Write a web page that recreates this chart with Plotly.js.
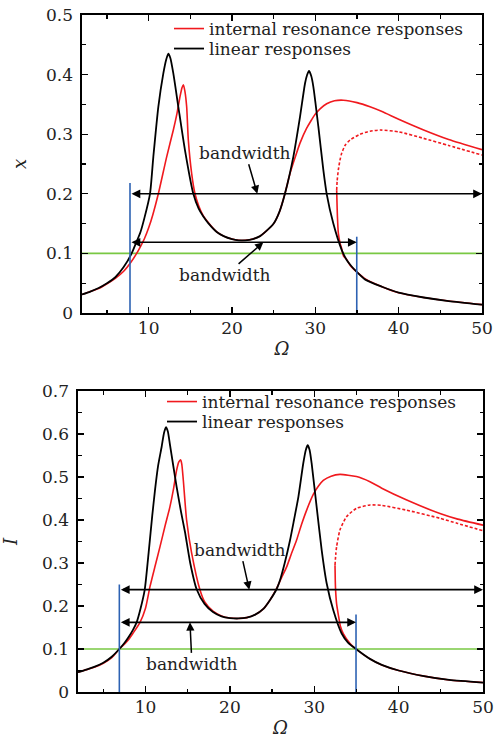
<!DOCTYPE html>
<html>
<head>
<meta charset="utf-8">
<script src="https://cdn.plot.ly/plotly-3.0.1.min.js"></script>
<style>html,body{margin:0;padding:0;background:#fff;}#chart{width:494px;height:740px;}</style>
</head>
<body>
<div id="chart"></div>
<script>
// ---------- Top panel (x) ----------
const topLinearOmega = [2,3,4,5,6,7,7.96,8.5,9,9.5,10.16,10.56,11.16,11.76,12.1,12.36,12.6,12.96,13.56,14.36,15.36,16,16.56,17.2,18.17,19,20,20.8,21.6,22.5,23.37,24.0,25.0,25.7,26.35,27.36,28.16,28.76,29.0,29.24,29.5,29.76,30.36,30.96,31.36,32.16,33.16,33.76,34.36,34.97,36,38,40,43,46,50];
const topLinearX     = [0.031,0.036,0.042,0.050,0.060,0.077,0.100,0.118,0.135,0.160,0.200,0.262,0.346,0.402,0.425,0.435,0.428,0.402,0.346,0.273,0.200,0.175,0.162,0.150,0.136,0.129,0.124,0.122,0.122,0.124,0.129,0.136,0.150,0.170,0.200,0.262,0.329,0.385,0.399,0.406,0.398,0.380,0.313,0.240,0.200,0.150,0.106,0.089,0.078,0.069,0.056,0.044,0.034,0.026,0.020,0.014];

const topIrOmega = [2,3,4,5,6,7,7.76,8.56,9,9.5,10,10.5,11.16,12.16,12.96,13.4,13.76,14.0,14.16,14.35,14.56,14.76,15.16,15.56,16,16.56,17.2,18.17,19,20,20.8,21.6,22.5,23.37,24.0,25.0,25.7,26.35,26.96,27.6,28.16,28.96,29.5,29.96,30.6,31.36,32.3,33.36,35,36.56,38,40,43,46,50];
const topIrX     = [0.031,0.036,0.041,0.049,0.058,0.070,0.083,0.100,0.111,0.125,0.143,0.165,0.200,0.262,0.307,0.335,0.363,0.378,0.383,0.372,0.346,0.290,0.234,0.200,0.180,0.163,0.151,0.136,0.129,0.124,0.122,0.122,0.124,0.129,0.136,0.150,0.170,0.200,0.234,0.262,0.285,0.310,0.323,0.333,0.343,0.351,0.356,0.357,0.353,0.346,0.338,0.325,0.307,0.291,0.274];

const topIrLowerOmega = [32.56,32.6,32.65,32.76,32.97,33.16,33.37,33.76,34.17,34.36,34.97,36,38,40,43,46,50];
const topIrLowerX     = [0.206,0.185,0.162,0.134,0.117,0.108,0.096,0.090,0.080,0.077,0.069,0.057,0.044,0.034,0.026,0.020,0.014];

const topIrUnstableOmega = [32.56,32.62,32.76,32.95,33.16,33.6,34.16,35.36,36.56,37.8,40,43,46,50];
const topIrUnstableX     = [0.206,0.222,0.240,0.256,0.268,0.282,0.290,0.300,0.305,0.307,0.304,0.293,0.281,0.265];

const topThreshold = 0.1;
const topBandEdges = [7.76, 34.97];
const topBandEdgeTops = [0.218, 0.128];
const topArrowLevels = [0.2, 0.1186];
const topArrowEnds = [50, 34.97];
const topLabelTips = [23.04, 23.76];

// ---------- Bottom panel (I) ----------
const botLinearOmega = [2,3,4,5,6,6.9,7.5,8,8.5,8.95,9.4,9.9,10.4,10.8,11.13,11.5,11.92,12.2,12.43,12.65,12.9,13.3,13.69,14.2,14.68,15.3,16.06,17,18,19,20,21,22,23,24,24.76,25.53,25.94,26.5,27.13,27.6,28.12,28.7,29.0,29.22,29.45,29.69,30.28,30.88,31.47,32.26,33.25,34,34.95,36.6,38,40,43,46,50];
const botLinearI     = [0.046,0.052,0.059,0.068,0.082,0.100,0.114,0.128,0.144,0.162,0.193,0.237,0.330,0.410,0.470,0.527,0.571,0.603,0.616,0.606,0.575,0.525,0.477,0.420,0.372,0.300,0.239,0.205,0.186,0.176,0.172,0.171,0.173,0.180,0.194,0.214,0.239,0.260,0.300,0.353,0.400,0.454,0.532,0.563,0.574,0.563,0.532,0.431,0.330,0.253,0.190,0.136,0.115,0.100,0.077,0.063,0.050,0.037,0.028,0.022];

const botIrOmega = [2,3,4,5,6,6.9,7.5,8,8.5,9.35,10,10.53,11.1,11.72,12.3,12.9,13.3,13.69,13.95,14.16,14.3,14.48,14.87,15.47,16.46,17,18,19,20,21,22,23,24,24.76,25.5,26.1,26.73,27.3,27.9,28.5,29.1,29.9,30.5,31.07,32,33.05,35,36.6,38,40.9,44.9,47,50];
const botIrI     = [0.046,0.052,0.058,0.067,0.080,0.100,0.111,0.122,0.136,0.162,0.195,0.245,0.290,0.338,0.385,0.431,0.470,0.516,0.535,0.540,0.530,0.493,0.400,0.323,0.237,0.210,0.188,0.177,0.172,0.171,0.173,0.180,0.194,0.214,0.239,0.265,0.291,0.322,0.353,0.390,0.423,0.460,0.479,0.492,0.502,0.506,0.501,0.489,0.474,0.447,0.415,0.402,0.388];

const botIrLowerOmega = [32.46,32.49,32.53,32.65,32.85,33.1,33.44,34.24,34.95,36.6,38,40,43,46,50];
const botIrLowerI     = [0.295,0.260,0.237,0.205,0.180,0.153,0.136,0.113,0.100,0.077,0.063,0.050,0.037,0.028,0.022];

const botIrUnstableOmega = [32.46,32.55,32.65,33.05,33.84,35.0,36.6,38,40.9,44.9,47,50];
const botIrUnstableI     = [0.295,0.320,0.338,0.377,0.408,0.427,0.435,0.434,0.423,0.404,0.392,0.375];

const botThreshold = 0.1;
const botBandEdges = [6.9, 34.95];
const botBandEdgeTops = [0.25, 0.18];
const botArrowLevels = [0.238, 0.162];
const botArrowEnds = [50, 34.95];
const botLabelTips = [22.3, 15.27];

const omegaRange = [2, 50];
const xTickVals = [10, 20, 30, 40, 50];
const legendNames = ['internal resonance responses', 'linear responses'];

// ---------- Styles ----------
const RED = '#f0191e', BLACK = '#000000', GREEN = '#79c843', BLUE = '#2d62b3';
const FONT = 'DejaVu Serif';

function lineTrace(xs, ys, color, width, axes, extra) {
  return Object.assign({
    type: 'scatter', mode: 'lines', x: xs, y: ys,
    line: {color: color, width: width, shape: 'spline', smoothing: 0.6},
    xaxis: axes[0], yaxis: axes[1], showlegend: false, hoverinfo: 'skip'
  }, extra || {});
}

function panelTraces(axes, d, legendIds) {
  const tr = [];
  tr.push(lineTrace(omegaRange, [d.thr, d.thr], GREEN, 1.6, axes, {line: {color: GREEN, width: 1.6}}));
  tr.push(lineTrace(d.irO, d.irY, RED, 1.6, axes, {name: legendNames[0], showlegend: true, legend: legendIds[0]}));
  tr.push(lineTrace(d.lowO, d.lowY, RED, 1.6, axes));
  tr.push(lineTrace(d.unO, d.unY, RED, 1.6, axes, {line: {color: RED, width: 1.6, dash: '3px,2px', shape: 'spline', smoothing: 0.6}}));
  tr.push(lineTrace(d.linO, d.linY, BLACK, 1.8, axes, {name: legendNames[1], showlegend: true, legend: legendIds[1]}));
  for (let i = 0; i < d.edges.length; i++) {
    tr.push(lineTrace([d.edges[i], d.edges[i]], [0, d.edgeTops[i]], BLUE, 1.6, axes, {line: {color: BLUE, width: 1.6}}));
  }
  return tr;
}

const traces = [].concat(
  panelTraces(['x', 'y'], {
    thr: topThreshold, irO: topIrOmega, irY: topIrX, lowO: topIrLowerOmega, lowY: topIrLowerX,
    unO: topIrUnstableOmega, unY: topIrUnstableX, linO: topLinearOmega, linY: topLinearX,
    edges: topBandEdges, edgeTops: topBandEdgeTops
  }, ['legend', 'legend2']),
  panelTraces(['x2', 'y2'], {
    thr: botThreshold, irO: botIrOmega, irY: botIrI, lowO: botIrLowerOmega, lowY: botIrLowerI,
    unO: botIrUnstableOmega, unY: botIrUnstableI, linO: botLinearOmega, linY: botLinearI,
    edges: botBandEdges, edgeTops: botBandEdgeTops
  }, ['legend3', 'legend4'])
);

function bandArrows(xr, yr, edges, levels, ends, tips, labelOffsets) {
  const a = [];
  for (let i = 0; i < levels.length; i++) {
    a.push({
      xref: xr, yref: yr, axref: xr, ayref: yr,
      x: ends[i], y: levels[i], ax: edges[0], ay: levels[i],
      text: '', showarrow: true, arrowside: 'end+start',
      arrowhead: 2, arrowsize: 1.1, arrowwidth: 1.6, arrowcolor: BLACK,
      standoff: 0, startstandoff: 0
    });
    a.push({
      xref: xr, yref: yr, x: tips[i], y: levels[i],
      ax: labelOffsets[i][0], ay: labelOffsets[i][1],
      text: 'bandwidth', font: {family: FONT, size: 17, color: '#222'},
      showarrow: true, arrowhead: 2, arrowsize: 1.1, arrowwidth: 1.5, arrowcolor: BLACK,
      standoff: 0
    });
  }
  return a;
}

const annotations = [].concat(
  bandArrows('x', 'y', topBandEdges, topArrowLevels, topArrowEnds, topLabelTips, [[-12, -41], [-38, 33]]),
  bandArrows('x2', 'y2', botBandEdges, botArrowLevels, botArrowEnds, botLabelTips, [[-9, -40], [2, 42]])
);

function xAxis(domain, anchor) {
  return {
    domain: domain, anchor: anchor, range: omegaRange,
    tickmode: 'array', tickvals: xTickVals,
    ticks: 'inside', ticklen: 6, tickwidth: 1.3, tickcolor: BLACK,
    minor: {ticks: 'inside', ticklen: 3.5, tickwidth: 1.3, tickcolor: BLACK, dtick: 5, tick0: 0, showgrid: false},
    showline: true, linewidth: 1.6, linecolor: BLACK, mirror: 'allticks',
    showgrid: false, zeroline: false,
    tickfont: {family: FONT, size: 17, color: '#222'},
    ticklabelstandoff: -1,
    title: {text: 'Ω', font: {family: FONT, size: 18, style: 'italic', color: '#222'}, standoff: 5},
    automargin: false
  };
}
function yAxis(domain, anchor, range, title, standoff) {
  return {
    domain: domain, anchor: anchor, range: range, dtick: 0.1, tick0: 0,
    ticks: 'inside', ticklen: 6, tickwidth: 1.3, tickcolor: BLACK,
    minor: {ticks: 'inside', ticklen: 3.5, tickwidth: 1.3, tickcolor: BLACK, dtick: 0.05, tick0: 0, showgrid: false},
    showline: true, linewidth: 1.6, linecolor: BLACK, mirror: 'allticks',
    showgrid: false, zeroline: false,
    tickfont: {family: FONT, size: 17, color: '#222'},
    ticklabelstandoff: 4,
    title: {text: title, font: {family: FONT, size: 18, style: 'italic', color: '#222'}, standoff: standoff},
    automargin: false
  };
}

function legendAt(x, y) {
  return {
    x: x, y: y, xanchor: 'left', yanchor: 'middle', xref: 'paper', yref: 'paper',
    bgcolor: 'rgba(0,0,0,0)', borderwidth: 0,
    font: {family: FONT, size: 17, color: '#222'},
    itemwidth: 30, tracegroupgap: 0
  };
}

const W = 494, H = 740;
const layout = {
  width: W, height: H,
  margin: {l: 0, r: 0, t: 0, b: 0},
  paper_bgcolor: '#fff', plot_bgcolor: '#fff',
  showlegend: true,
  xaxis: xAxis([82 / W, 482 / W], 'y'),
  yaxis: yAxis([1 - 313 / H, 1 - 15 / H], 'x', [0, 0.5], 'x', 14),
  xaxis2: xAxis([78 / W, 483 / W], 'y2'),
  yaxis2: yAxis([1 - 692 / H, 1 - 391 / H], 'x2', [0, 0.7], 'I', 19),
  legend: legendAt(169 / W, 1 - 29 / H),
  legend2: legendAt(169 / W, 1 - 49 / H),
  legend3: legendAt(162 / W, 1 - 402 / H),
  legend4: legendAt(162 / W, 1 - 422 / H),
  annotations: annotations
};

Plotly.newPlot('chart', traces, layout, {staticPlot: true, displayModeBar: false});
</script>
</body>
</html>
